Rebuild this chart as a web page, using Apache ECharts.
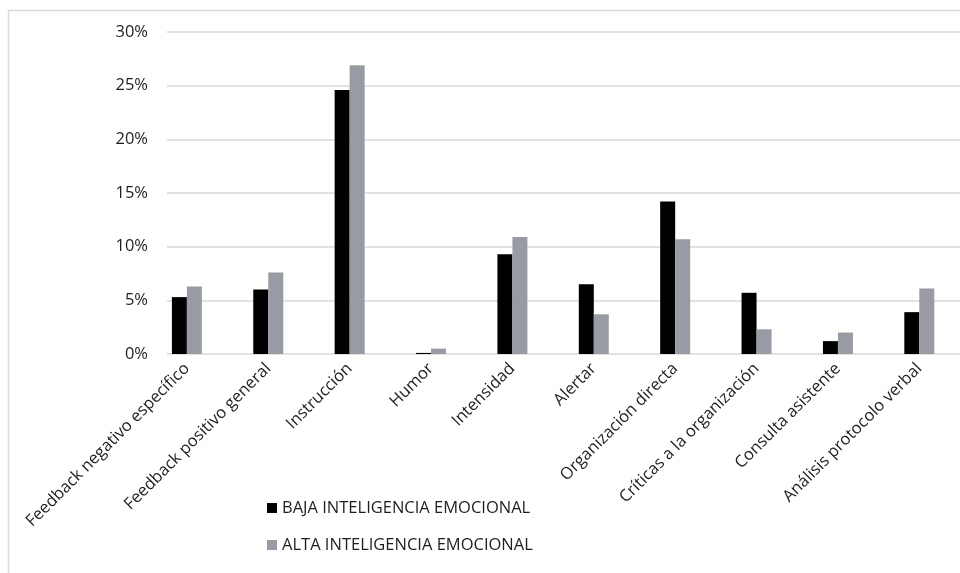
<!DOCTYPE html>
<html>
<head>
<meta charset="utf-8">
<script src="https://cdn.jsdelivr.net/npm/echarts@6/dist/echarts.min.js"></script>
<style>
  html, body { margin: 0; padding: 0; background: #ffffff; }
  #chart { width: 960px; height: 573px; }
</style>
</head>
<body>
<div id="chart"></div>
<script>
// Categories of coaching behaviour
const categories = [
  'Feedback negativo específico',
  'Feedback positivo general',
  'Instrucción',
  'Humor',
  'Intensidad',
  'Alertar',
  'Organización directa',
  'Críticas a la organización',
  'Consulta asistente',
  'Análisis protocolo verbal'
];

// Share of each behaviour (fraction of total)
const bajaIE = [0.053, 0.060, 0.246, 0.001, 0.093, 0.065, 0.142, 0.057, 0.012, 0.039];
const altaIE = [0.063, 0.076, 0.269, 0.005, 0.109, 0.037, 0.107, 0.023, 0.020, 0.061];

const seriesNames = ['BAJA INTELIGENCIA EMOCIONAL', 'ALTA INTELIGENCIA EMOCIONAL'];

// Value axis ticks
const yMin = 0;
const yMax = 0.30;
const yStep = 0.05;

const FONT = '"Open Sans", "Noto Sans", sans-serif';
const FONT_SIZE = 16.5;
const TEXT_COLOR = '#1f1f1f';
const GRID_COLOR = '#d9d9d9';

const chart = echarts.init(document.getElementById('chart'), null, { renderer: 'canvas' });

const plotTop = 32;
const plotBottom = 219;

chart.setOption({
  animation: false,
  backgroundColor: '#ffffff',
  graphic: [{
    type: 'rect',
    shape: { x: 8.5, y: 10.5, width: 1200, height: 1200 },
    style: { fill: 'none', stroke: GRID_COLOR, lineWidth: 1.5 },
    silent: true,
    z: -10
  }],
  legend: {
    orient: 'vertical',
    left: 267,
    top: 499,
    padding: 0,
    itemWidth: 10,
    itemHeight: 10,
    itemGap: 19,
    icon: 'rect',
    textStyle: { fontFamily: FONT, fontSize: FONT_SIZE, color: TEXT_COLOR, lineHeight: 18 },
    data: seriesNames
  },
  grid: [
    // grid holding the gridlines and the percentage labels
    { left: 167, right: 0, top: plotTop, bottom: plotBottom, containLabel: false },
    // grid holding the bars and the category labels
    { left: 146.2, width: 836.7, top: plotTop, bottom: plotBottom, containLabel: false }
  ],
  xAxis: [
    { type: 'value', gridIndex: 0, show: false, min: 0, max: 1 },
    {
      type: 'category',
      gridIndex: 1,
      data: categories,
      boundaryGap: true,
      axisLine: { show: false },
      axisTick: { show: false },
      axisLabel: {
        interval: 0,
        rotate: 45,
        margin: 12,
        fontFamily: FONT,
        fontSize: FONT_SIZE,
        color: TEXT_COLOR
      }
    }
  ],
  yAxis: [
    {
      type: 'value',
      gridIndex: 0,
      min: yMin,
      max: yMax,
      interval: yStep,
      axisLine: { show: false },
      axisTick: { show: false },
      splitLine: { show: true, lineStyle: { color: GRID_COLOR, width: 1.5 } },
      axisLabel: {
        margin: 19,
        fontFamily: FONT,
        fontSize: FONT_SIZE,
        color: TEXT_COLOR,
        formatter: v => Math.round(v * 100) + '%'
      }
    },
    {
      type: 'value',
      gridIndex: 1,
      min: yMin,
      max: yMax,
      interval: yStep,
      show: false,
      splitLine: { show: false }
    }
  ],
  series: [
    {
      name: seriesNames[0],
      type: 'bar',
      xAxisIndex: 1,
      yAxisIndex: 1,
      data: bajaIE,
      barWidth: 15,
      barGap: '0%',
      itemStyle: { color: '#000000' }
    },
    {
      name: seriesNames[1],
      type: 'bar',
      xAxisIndex: 1,
      yAxisIndex: 1,
      data: altaIE,
      barWidth: 15,
      barGap: '0%',
      itemStyle: { color: '#989ba4' }
    }
  ]
});
</script>
</body>
</html>
